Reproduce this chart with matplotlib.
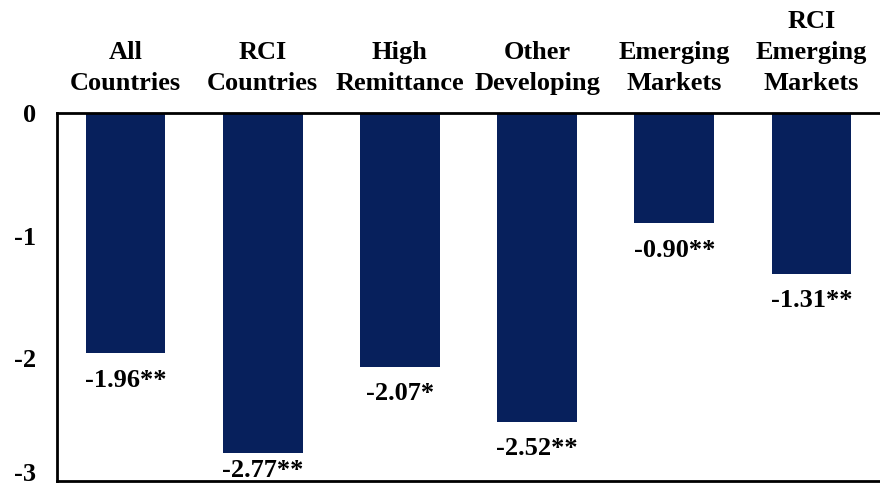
import numpy as np
import matplotlib.pyplot as plt

categories = ['All\nCountries', 'RCI\nCountries', 'High\nRemittance',
              'Other\nDeveloping', 'Emerging\nMarkets', 'RCI\nEmerging\nMarkets']
values = [-1.96, -2.77, -2.07, -2.52, -0.90, -1.31]
labels = ['-1.96**', '-2.77**', '-2.07*', '-2.52**', '-0.90**', '-1.31**']
yticks = [0, -1, -2, -3]

plt.rcParams['font.family'] = 'serif'
plt.rcParams['font.serif'] = ['Liberation Serif']
plt.rcParams['font.weight'] = 'bold'
fs = 19

fig = plt.figure(figsize=(8.8, 4.94), dpi=100)
ax = fig.add_axes([0.0648, 0.0263, 0.9352, 0.7449])

x = np.arange(len(values))
ax.bar(x, values, width=0.58, color='#07205C')

ax.set_xlim(-0.5, len(values) - 0.5)
ax.set_ylim(-3, 0)
ax.set_yticks(yticks)
ax.set_yticklabels([str(t) for t in yticks], fontsize=fs, fontweight='bold')
ax.tick_params(axis='y', length=0, pad=15)
ax.set_xticks([])
# bottom tick label sits on the axis line so it is not cut off
ax.get_yticklabels()[-1].set_verticalalignment('baseline')

# value labels below each bar, kept above the bottom axis line
for i, (v, lab) in enumerate(zip(values, labels)):
    ypos = max(v - 0.27, -2.97)
    ax.text(i, ypos, lab, ha='center', va='baseline', fontsize=fs, fontweight='bold')
    ax.annotate(categories[i], (i, 0), xytext=(0, 16.5), textcoords='offset points',
                ha='center', va='baseline', fontsize=fs, fontweight='bold',
                linespacing=1.45, annotation_clip=False)

ax.spines['right'].set_visible(False)
for s in ['left', 'top', 'bottom']:
    ax.spines[s].set_linewidth(2)
    ax.spines[s].set_color('black')

fig.savefig('out.png', dpi=100)
